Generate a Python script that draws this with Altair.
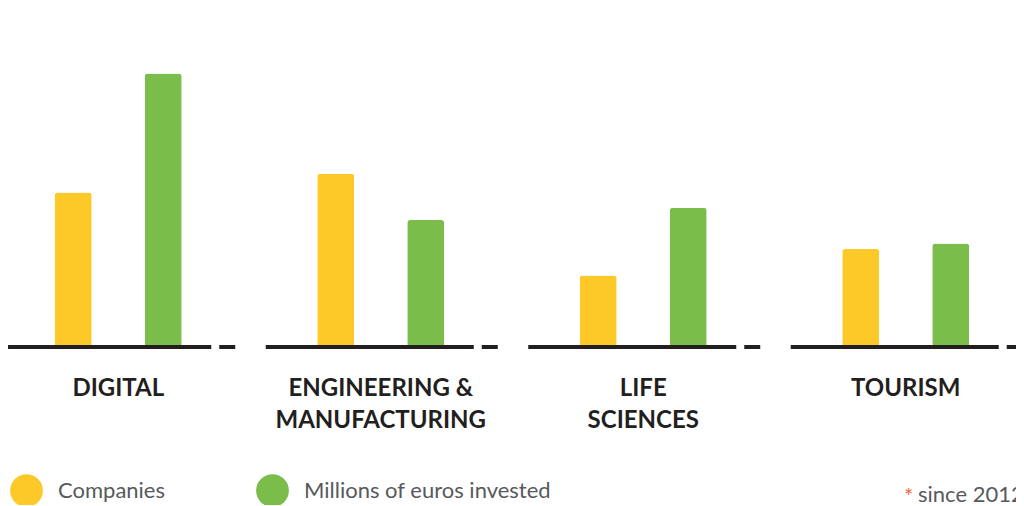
import altair as alt
import pandas as pd

categories = ["DIGITAL", "ENGINEERING &\nMANUFACTURING", "LIFE\nSCIENCES", "TOURISM"]
series = ["Companies", "Millions of euros invested"]
companies = [41, 46, 19, 26]
investment = [72.6, 33.7, 37, 27.5]

YELLOW = "#FDC928"
GREEN = "#7ABD4B"
ORANGE = "#F26B3A"
DARK = "#231F20"
GRAY = "#58595B"

rows = []
for c, a, b in zip(categories, companies, investment):
    rows.append({"category": c, "series": series[0], "value": a})
    rows.append({"category": c, "series": series[1], "value": b})
df = pd.DataFrame(rows)

x_enc = alt.X(
    "category:N", sort=categories,
    scale=alt.Scale(paddingInner=0.16, paddingOuter=0),
    axis=alt.Axis(title=None, domain=False, ticks=False, grid=False, labelAngle=0,
                  labelFont="Lato", labelFontSize=24, labelFontWeight="bold",
                  labelColor=DARK, labelPadding=29, labelLineHeight=32,
                  labelBaseline="top", labelLimit=400,
                  labelExpr="split(datum.label, '\\n')"),
)
xo_enc = alt.XOffset("series:N", sort=series,
                     scale=alt.Scale(paddingInner=0, paddingOuter=0.225))
y_enc = alt.Y("value:Q", scale=alt.Scale(domain=[0, 90], nice=False, zero=True), axis=None)
color_enc = alt.Color(
    "series:N", sort=series,
    scale=alt.Scale(domain=series, range=[YELLOW, GREEN]),
    legend=alt.Legend(title=None, orient="none", legendX=2, legendY=466,
                      direction="horizontal", symbolType="circle", symbolSize=1075,
                      symbolStrokeWidth=0, labelFont="Lato",
                      labelFontSize=22, labelColor=GRAY, labelOffset=15,
                      columnPadding=90, labelLimit=400),
)

base = alt.Chart(df)

bars = base.mark_bar(width=37, cornerRadiusTopLeft=3, cornerRadiusTopRight=3).encode(
    x=x_enc, xOffset=xo_enc, y=y_enc, color=color_enc
)

line_base = base.transform_filter("datum.series == 'Companies'")
axis_line = line_base.mark_tick(size=208, thickness=4, xOffset=-11, color=DARK,
                                opacity=1).encode(x=x_enc, y=alt.datum(0))
axis_dash = line_base.mark_tick(size=16, thickness=4, xOffset=109, color=DARK,
                                opacity=1).encode(x=x_enc, y=alt.datum(0))

note_star = alt.Chart(pd.DataFrame({"t": ["*"]})).mark_text(
    font="Lato", fontSize=22, color=ORANGE, align="left", baseline="alphabetic"
).encode(x=alt.value(896), y=alt.value(496), text="t:N")
note_text = alt.Chart(pd.DataFrame({"t": ["since 2012"]})).mark_text(
    font="Lato", fontSize=22, color=GRAY, align="left", baseline="alphabetic"
).encode(x=alt.value(910), y=alt.value(494), text="t:N")

chart = alt.layer(
    bars, axis_line, axis_dash, note_star, note_text
).properties(
    width=1008, height=339,
    autosize=alt.AutoSizeParams(type="none"),
    padding={"left": 0, "top": 0, "right": 0, "bottom": 158},
).configure_view(stroke=None)

chart.save("out.html", embed_options={"renderer": "svg", "actions": False})
